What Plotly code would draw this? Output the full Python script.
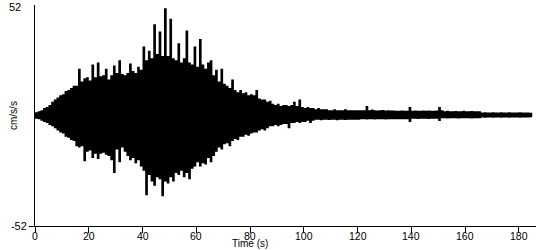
import plotly.graph_objects as go

# Time axis (s) sampled at 1 s; envelope of acceleration (cm/s/s) read from the record
time_s = list(range(0, 186))

upper_env = [
    1.5, 2, 2.5, 3.5, 4, 5, 6.5, 7.5, 8.5, 9.5,
    10, 11.5, 12, 13, 14, 14, 22, 16, 17.5, 18,
    16.5, 24, 18, 25, 18.5, 19, 22, 17, 19, 23.5,
    20, 26, 19.5, 19, 20, 24.5, 21, 20, 23, 21.5,
    32.5, 26, 30.5, 27, 43, 29, 39.5, 28, 50.5, 28,
    45.5, 27, 26, 34, 25, 27, 40, 25, 24, 32.5,
    23, 36, 24, 22, 25, 26, 19, 21.5, 16, 22,
    15, 14, 13, 17, 12, 11, 12, 10.5, 11, 9.5,
    10, 9.5, 12, 8, 7.5, 7.5, 6.5, 7, 5.5, 5,
    5.5, 4.5, 5, 5, 4.5, 5, 6.5, 4.5, 7.5, 4,
    3.5, 4, 3.5, 3.5, 3, 3.5, 3, 3, 3, 2.5,
    2.5, 3, 2.5, 2.5, 2.5, 3, 2.5, 2.5, 2.5, 2.5,
    2.5, 2.5, 2.5, 4.5, 2.5, 2.8, 2.5, 2.3, 2.5, 2.6,
    2.4, 2.5, 2.3, 2.4, 2.2, 2.2, 2.4, 2.2, 2.2, 4,
    2.2, 2.4, 2.2, 2.2, 2.3, 2.2, 2.4, 2.2, 2.2, 2.3,
    4, 2.5, 2, 2.2, 2, 2, 2.1, 2, 2, 2.2,
    2, 2, 2.1, 2, 2, 2, 1.4, 1.5, 1.4, 1.4,
    1.5, 1.4, 1.4, 1.5, 1.4, 1.4, 1.5, 1.4, 1.4, 1.4,
    1.5, 1.4, 1.4, 1.4, 1.3, 1.3,
]

lower_env = [
    -1.5, -1.8, -2.5, -3, -3.5, -4.5, -5, -6, -7, -8,
    -8.5, -10, -10.5, -11.5, -12, -14.5, -15, -14.5, -21.5, -17,
    -16.5, -20, -18, -20.5, -18, -17.5, -18.5, -19, -21, -27,
    -16, -22, -15, -17, -19, -21, -20, -22.5, -21, -24,
    -26, -37.5, -28, -31, -33, -29, -30, -38, -31, -32,
    -29, -31, -27, -28, -26, -29, -27, -30, -25, -24,
    -22, -24, -22.5, -23, -20, -22, -19, -17, -15, -16,
    -13.5, -13, -14.5, -12, -11, -11.5, -10, -10, -9, -9.5,
    -8.5, -8, -8, -7, -6.5, -7, -6, -5, -5, -4.5,
    -5, -4.5, -4, -4, -6, -3.5, -3.5, -3, -3.5, -3,
    -3, -2.5, -3.5, -2.5, -2, -2, -2.2, -2, -2, -2.1,
    -2, -2, -2.2, -2, -2, -2.1, -2, -2, -2, -2,
    -2, -1.8, -1.8, -1.9, -1.8, -1.8, -1.9, -1.8, -1.8, -1.8,
    -1.9, -1.8, -1.8, -1.8, -1.8, -1.8, -1.8, -1.8, -1.8, -3,
    -1.5, -1.5, -1.6, -1.5, -1.5, -1.5, -1.6, -1.5, -1.5, -1.5,
    -2.6, -1.3, -1.3, -1.4, -1.3, -1.3, -1.3, -1.4, -1.3, -1.3,
    -1.3, -1.3, -1.4, -1.3, -1.3, -1.3, -0.9, -1.0, -0.9, -0.9,
    -1.0, -0.9, -0.9, -1.0, -0.9, -0.9, -1.0, -0.9, -0.9, -0.9,
    -1.0, -0.9, -0.9, -0.9, -0.8, -0.8,
]

x_ticks = [0, 20, 40, 60, 80, 100, 120, 140, 160, 180]
y_limits = [-52, 52]
x_title = "Time (s)"
y_title = "cm/s/s"

FONT = "Liberation Sans, Arial, sans-serif"

fig = go.Figure()
fig.add_trace(go.Scatter(
    x=time_s, y=lower_env, mode="lines", line=dict(color="black", width=0, shape="hv"),
    showlegend=False, hoverinfo="skip",
))
fig.add_trace(go.Scatter(
    x=time_s, y=upper_env, mode="lines", line=dict(color="black", width=0, shape="hv"),
    fill="tonexty", fillcolor="black", showlegend=False, hoverinfo="skip",
))

fig.update_layout(
    width=550, height=250, autosize=False,
    margin=dict(l=35, r=14, t=5, b=24, pad=0),
    paper_bgcolor="white", plot_bgcolor="white",
    font=dict(family=FONT, size=11, color="black"),
    showlegend=False,
)
fig.update_xaxes(
    range=[0, 186.4], tickvals=x_ticks, showticklabels=False,
    showline=True, linecolor="black", linewidth=1, ticks="outside", ticklen=6,
    tickcolor="black", tickwidth=1, showgrid=False, zeroline=False,
)
fig.update_yaxes(
    range=y_limits, tickvals=[y_limits[0]], ticktext=[str(y_limits[0])],
    showline=True, linecolor="black", linewidth=1, ticks="outside", ticklen=5,
    tickcolor="black", tickwidth=1, showgrid=False, zeroline=False,
    tickfont=dict(family=FONT, size=11, color="black"),
)
for v in x_ticks:
    fig.add_annotation(
        text=str(v), xref="x", yref="paper", x=v, y=0,
        xanchor="center", yanchor="middle", yshift=-9.5, showarrow=False,
        borderpad=0, font=dict(family=FONT, size=10.5, color="black"),
    )
fig.add_annotation(
    text=str(y_limits[1]), xref="paper", yref="paper", x=-35 / 501, y=1.0,
    xanchor="left", yanchor="middle", xshift=7, yshift=-2, showarrow=False,
    font=dict(family=FONT, size=11, color="black"),
)
fig.add_annotation(
    text=y_title, xref="paper", yref="paper", x=-35 / 501, y=0.5,
    xanchor="left", yanchor="middle", xshift=6, textangle=-90, showarrow=False,
    font=dict(family=FONT, size=10, color="black"),
)
fig.add_annotation(
    text=x_title, xref="paper", yref="paper", x=(250 - 35) / 501, y=0,
    xanchor="center", yanchor="bottom", yshift=-24, showarrow=False,
    borderpad=0, font=dict(family=FONT, size=10, color="black"),
)

fig.write_html("out.html")
